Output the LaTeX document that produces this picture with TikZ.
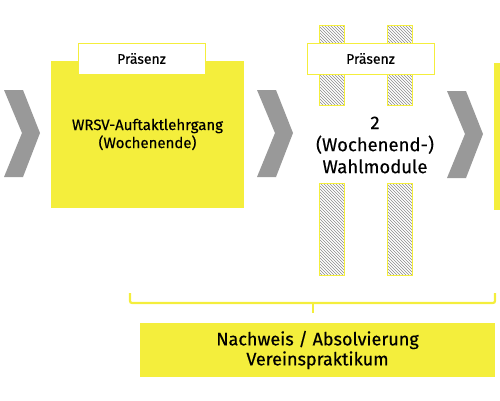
\documentclass[tikz,border=0pt]{standalone}
\usepackage{fontspec}
\setmainfont{Fira Sans}[FakeBold=0.4]
\usetikzlibrary{patterns,positioning}

\definecolor{gelb}{HTML}{F4EE3C}
\definecolor{pfeilgrau}{HTML}{999999}
\definecolor{schraffur}{HTML}{8A8A8A}

\tikzset{
	block/.style={fill=gelb, inner sep=0pt, align=center, font=\fontsize{15}{18}\selectfont},
	reiter/.style={fill=white, draw=gelb, line width=1pt, inner sep=0pt, minimum width=127pt, minimum height=31pt, font=\fontsize{14}{14}\selectfont},
	balken/.style={pattern=north west lines, pattern color=schraffur, draw=gelb, line width=0.8pt},
	pfeil/.style={fill=pfeilgrau},
	klammer/.style={draw=gelb, line width=2.2pt, rounded corners=2pt}
}

\newcommand{\chevron}[2]{% top left corner
	\fill[pfeil] (#1,#2) -- ++(19,0) -- ++(17,43) -- ++(-17,44) -- ++(-19,0) -- ++(18,-44) -- cycle;
}

\begin{document}
\begin{tikzpicture}[x=1pt,y=-1pt]
		\useasboundingbox (0,0) rectangle (500,400);
		
		% Pfeile
		\chevron{4}{90}
		\chevron{257}{90}
		\chevron{447}{91}
		
		% Auftaktlehrgang
		\node[block, minimum width=193pt, minimum height=147pt] (auftakt) at (147.5,134.5) {WRSV-Auftaktlehrgang\\(Wochenende)};
		\node[reiter] (praesenz1) at (141.5,58.5) {Präsenz};
		
		% Wahlmodule
		\foreach \x in {319,387} {
			\draw[balken] (\x,25) rectangle (\x+25,105);
			\draw[balken] (\x,183) rectangle (\x+25,275);
		}
		\node[reiter] (praesenz2) at (370.5,58.5) {Präsenz};
		\node[align=center, font=\fontsize{18.5}{22}\selectfont] (wahl) at (375,145) {2\\(Wochenend-)\\Wahlmodule};
		
		% naechster Block (angeschnitten)
		\fill[gelb] (494,63) rectangle (500,210);
		
		% Klammer
		\coordinate (kl-l) at (130,293);
		\coordinate (kl-r) at (495,293);
		\coordinate (kl-m) at (313,303);
		\draw[klammer] (kl-l) -- (kl-l |- kl-m) -- (kl-r |- kl-m) -- (kl-r);
		\draw[klammer] (kl-m) -- ++(0,10);
		
		% Vereinspraktikum
		\node[block, minimum width=355pt, minimum height=54pt, font=\fontsize{18}{20}\selectfont] (praktikum) at (317.5,350) {Nachweis / Absolvierung\\Vereinspraktikum};
		
	\end{tikzpicture}
\end{document}
